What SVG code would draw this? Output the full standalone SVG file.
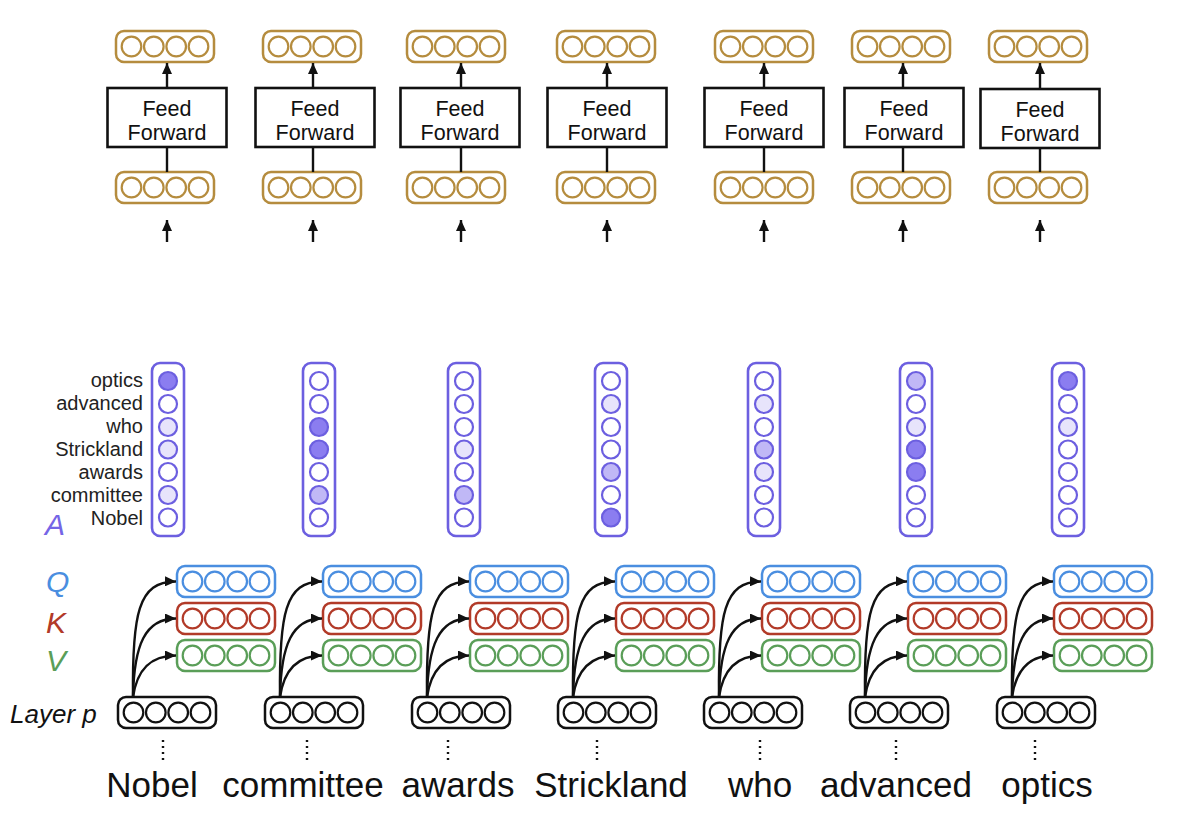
<svg xmlns="http://www.w3.org/2000/svg" xmlns:xlink="http://www.w3.org/1999/xlink" width="1200" height="833" viewBox="0 0 1200 833">
<style>
text{font-family:"Liberation Sans",Arial,sans-serif;fill:#111}
.vec rect,.vec circle{fill:none;stroke:currentColor;stroke-width:2.5}
.vec circle{stroke-width:2.2}
.gold{color:#b58c3e}.blue{color:#4a8ee0}.red{color:#b23a28}.green{color:#5a9e58}.blk{color:#111}
.ff{fill:#fff;stroke:#111;stroke-width:2.6}
.ffl{font-size:21.5px;text-anchor:middle}
.conn line,.conn path{stroke:#111;stroke-width:2.4;fill:none}
.arr{marker-end:url(#ah)}
.att rect{fill:none;stroke:#6c5fe0;stroke-width:2.6}
.att circle{stroke:#6c5fe0;stroke-width:2.2;fill:#fff}
.att .d{fill:#8b7df0}.att .m{fill:#c0b8f6}.att .l{fill:#e7e4fb}
.lab{font-size:20px;text-anchor:end;fill:#222}
.word{font-size:35px;text-anchor:middle}
.dots{stroke:#333;stroke-width:2;stroke-dasharray:2 4}
.sym{font-size:30px;font-style:italic}
</style>
<defs>
<marker id="ah" markerWidth="11" markerHeight="10" refX="11" refY="5" orient="auto" markerUnits="userSpaceOnUse"><path d="M0,0 L11,5 L0,10 z" fill="#111"/></marker>
<g id="v4" class="vec"><rect x="0" y="0" width="98" height="31" rx="8"/><circle cx="15.5" cy="15.5" r="9.8"/><circle cx="37.8" cy="15.5" r="9.8"/><circle cx="60.2" cy="15.5" r="9.8"/><circle cx="82.5" cy="15.5" r="9.8"/></g>
</defs>
<rect width="1200" height="833" fill="#fff"/>

<!-- top feed-forward blocks -->
<g id="ff1"><use href="#v4" x="116" y="31" class="gold"/><rect class="ff" x="107.5" y="88" width="119" height="59"/><text class="ffl" x="167" y="116">Feed</text><text class="ffl" x="167" y="140">Forward</text><use href="#v4" x="116" y="172" class="gold"/></g>
<g id="ff2"><use href="#v4" x="263" y="31" class="gold"/><rect class="ff" x="255.5" y="88" width="119" height="59"/><text class="ffl" x="315" y="116">Feed</text><text class="ffl" x="315" y="140">Forward</text><use href="#v4" x="263" y="172" class="gold"/></g>
<g id="ff3"><use href="#v4" x="407" y="31" class="gold"/><rect class="ff" x="400.5" y="88" width="119" height="59"/><text class="ffl" x="460" y="116">Feed</text><text class="ffl" x="460" y="140">Forward</text><use href="#v4" x="407" y="172" class="gold"/></g>
<g id="ff4"><use href="#v4" x="557" y="31" class="gold"/><rect class="ff" x="547.5" y="88" width="119" height="59"/><text class="ffl" x="607" y="116">Feed</text><text class="ffl" x="607" y="140">Forward</text><use href="#v4" x="557" y="172" class="gold"/></g>
<g id="ff5"><use href="#v4" x="715" y="31" class="gold"/><rect class="ff" x="704.5" y="88" width="119" height="59"/><text class="ffl" x="764" y="116">Feed</text><text class="ffl" x="764" y="140">Forward</text><use href="#v4" x="715" y="172" class="gold"/></g>
<g id="ff6"><use href="#v4" x="852" y="31" class="gold"/><rect class="ff" x="844.5" y="88" width="119" height="59"/><text class="ffl" x="904" y="116">Feed</text><text class="ffl" x="904" y="140">Forward</text><use href="#v4" x="852" y="172" class="gold"/></g>
<g id="ff7"><use href="#v4" x="989" y="31" class="gold"/><rect class="ff" x="980.5" y="89" width="119" height="59"/><text class="ffl" x="1040" y="117">Feed</text><text class="ffl" x="1040" y="141">Forward</text><use href="#v4" x="989" y="172" class="gold"/></g>

<!-- attention columns -->
<g id="attlabels">
<text class="lab" x="143" y="387">optics</text>
<text class="lab" x="143" y="410">advanced</text>
<text class="lab" x="143" y="433">who</text>
<text class="lab" x="143" y="456">Strickland</text>
<text class="lab" x="143" y="479">awards</text>
<text class="lab" x="143" y="502">committee</text>
<text class="lab" x="143" y="525">Nobel</text>
<text class="sym" x="45" y="535" style="fill:#7565e6">A</text>
</g>
<g id="att1" class="att"><rect x="152" y="363" width="32" height="173" rx="8"/><circle class="d" cx="168" cy="381" r="9"/><circle cx="168" cy="404" r="9"/><circle class="l" cx="168" cy="427" r="9"/><circle class="l" cx="168" cy="449.5" r="9"/><circle cx="168" cy="472" r="9"/><circle class="l" cx="168" cy="495" r="9"/><circle cx="168" cy="517.5" r="9"/></g>
<g id="att2" class="att"><rect x="303" y="363" width="32" height="173" rx="8"/><circle cx="319" cy="381" r="9"/><circle cx="319" cy="404" r="9"/><circle class="d" cx="319" cy="427" r="9"/><circle class="d" cx="319" cy="449.5" r="9"/><circle cx="319" cy="472" r="9"/><circle class="m" cx="319" cy="495" r="9"/><circle cx="319" cy="517.5" r="9"/></g>
<g id="att3" class="att"><rect x="448" y="363" width="32" height="173" rx="8"/><circle cx="464" cy="381" r="9"/><circle cx="464" cy="404" r="9"/><circle cx="464" cy="427" r="9"/><circle class="l" cx="464" cy="449.5" r="9"/><circle cx="464" cy="472" r="9"/><circle class="m" cx="464" cy="495" r="9"/><circle cx="464" cy="517.5" r="9"/></g>
<g id="att4" class="att"><rect x="595" y="363" width="32" height="173" rx="8"/><circle cx="611" cy="381" r="9"/><circle class="l" cx="611" cy="404" r="9"/><circle cx="611" cy="427" r="9"/><circle cx="611" cy="449.5" r="9"/><circle class="m" cx="611" cy="472" r="9"/><circle cx="611" cy="495" r="9"/><circle class="d" cx="611" cy="517.5" r="9"/></g>
<g id="att5" class="att"><rect x="748" y="363" width="32" height="173" rx="8"/><circle cx="764" cy="381" r="9"/><circle class="l" cx="764" cy="404" r="9"/><circle cx="764" cy="427" r="9"/><circle class="m" cx="764" cy="449.5" r="9"/><circle class="l" cx="764" cy="472" r="9"/><circle cx="764" cy="495" r="9"/><circle cx="764" cy="517.5" r="9"/></g>
<g id="att6" class="att"><rect x="900" y="363" width="32" height="173" rx="8"/><circle class="m" cx="916" cy="381" r="9"/><circle cx="916" cy="404" r="9"/><circle class="l" cx="916" cy="427" r="9"/><circle class="d" cx="916" cy="449.5" r="9"/><circle class="d" cx="916" cy="472" r="9"/><circle cx="916" cy="495" r="9"/><circle cx="916" cy="517.5" r="9"/></g>
<g id="att7" class="att"><rect x="1052" y="363" width="32" height="173" rx="8"/><circle class="d" cx="1068" cy="381" r="9"/><circle cx="1068" cy="404" r="9"/><circle class="l" cx="1068" cy="427" r="9"/><circle cx="1068" cy="449.5" r="9"/><circle cx="1068" cy="472" r="9"/><circle cx="1068" cy="495" r="9"/><circle cx="1068" cy="517.5" r="9"/></g>

<!-- QKV labels -->
<g id="qkvlabels">
<text class="sym" x="46" y="592" style="fill:#4a8ee0">Q</text>
<text class="sym" x="46" y="633" style="fill:#b23a28">K</text>
<text class="sym" x="46" y="671" style="fill:#5a9e58">V</text>
<text x="10" y="723" style="font-size:26px;font-style:italic">Layer p</text>
</g>

<!-- QKV + layer nodes -->
<g id="tok1"><use href="#v4" x="177" y="566" class="blue"/><use href="#v4" x="177" y="603" class="red"/><use href="#v4" x="177" y="640" class="green"/><use href="#v4" x="118" y="697" class="blk"/></g>
<g id="tok2"><use href="#v4" x="323" y="566" class="blue"/><use href="#v4" x="323" y="603" class="red"/><use href="#v4" x="323" y="640" class="green"/><use href="#v4" x="265" y="697" class="blk"/></g>
<g id="tok3"><use href="#v4" x="470" y="566" class="blue"/><use href="#v4" x="470" y="603" class="red"/><use href="#v4" x="470" y="640" class="green"/><use href="#v4" x="412" y="697" class="blk"/></g>
<g id="tok4"><use href="#v4" x="616" y="566" class="blue"/><use href="#v4" x="616" y="603" class="red"/><use href="#v4" x="616" y="640" class="green"/><use href="#v4" x="558" y="697" class="blk"/></g>
<g id="tok5"><use href="#v4" x="762" y="566" class="blue"/><use href="#v4" x="762" y="603" class="red"/><use href="#v4" x="762" y="640" class="green"/><use href="#v4" x="704" y="697" class="blk"/></g>
<g id="tok6"><use href="#v4" x="908" y="566" class="blue"/><use href="#v4" x="908" y="603" class="red"/><use href="#v4" x="908" y="640" class="green"/><use href="#v4" x="850" y="697" class="blk"/></g>
<g id="tok7"><use href="#v4" x="1054" y="566" class="blue"/><use href="#v4" x="1054" y="603" class="red"/><use href="#v4" x="1054" y="640" class="green"/><use href="#v4" x="997" y="697" class="blk"/></g>

<!-- words -->
<g id="words">
<text class="word" x="152" y="797">Nobel</text>
<text class="word" x="303" y="797">committee</text>
<text class="word" x="458" y="797">awards</text>
<text class="word" x="611" y="797">Strickland</text>
<text class="word" x="760" y="797">who</text>
<text class="word" x="896" y="797">advanced</text>
<text class="word" x="1047" y="797">optics</text>
</g>

<!-- connectors -->
<g id="connectors" class="conn">
<line class="arr" x1="167" y1="88" x2="167" y2="63"/><line x1="167" y1="147" x2="167" y2="172"/><line class="arr" x1="167" y1="242" x2="167" y2="220"/>
<line class="arr" x1="313" y1="88" x2="313" y2="63"/><line x1="313" y1="147" x2="313" y2="172"/><line class="arr" x1="313" y1="242" x2="313" y2="220"/>
<line class="arr" x1="461" y1="88" x2="461" y2="63"/><line x1="461" y1="147" x2="461" y2="172"/><line class="arr" x1="461" y1="242" x2="461" y2="220"/>
<line class="arr" x1="607" y1="88" x2="607" y2="63"/><line x1="607" y1="147" x2="607" y2="172"/><line class="arr" x1="607" y1="242" x2="607" y2="220"/>
<line class="arr" x1="764" y1="88" x2="764" y2="63"/><line x1="764" y1="147" x2="764" y2="172"/><line class="arr" x1="764" y1="242" x2="764" y2="220"/>
<line class="arr" x1="903" y1="88" x2="903" y2="63"/><line x1="903" y1="147" x2="903" y2="172"/><line class="arr" x1="903" y1="242" x2="903" y2="220"/>
<line class="arr" x1="1040" y1="89" x2="1040" y2="63"/><line x1="1040" y1="148" x2="1040" y2="172"/><line class="arr" x1="1040" y1="242" x2="1040" y2="220"/>

<path class="arr" d="M133,697 C132,615 138,581 176,581.5"/><path class="arr" d="M133,697 C134,645 145,618.5 176,618.5"/><path class="arr" d="M133,697 C137,670 150,655.5 176,655.5"/>
<path class="arr" d="M280,697 C279,615 285,581 322,581.5"/><path class="arr" d="M280,697 C281,645 292,618.5 322,618.5"/><path class="arr" d="M280,697 C284,670 297,655.5 322,655.5"/>
<path class="arr" d="M427,697 C426,615 432,581 469,581.5"/><path class="arr" d="M427,697 C428,645 439,618.5 469,618.5"/><path class="arr" d="M427,697 C431,670 444,655.5 469,655.5"/>
<path class="arr" d="M573,697 C572,615 578,581 615,581.5"/><path class="arr" d="M573,697 C574,645 585,618.5 615,618.5"/><path class="arr" d="M573,697 C577,670 590,655.5 615,655.5"/>
<path class="arr" d="M719,697 C718,615 724,581 761,581.5"/><path class="arr" d="M719,697 C720,645 731,618.5 761,618.5"/><path class="arr" d="M719,697 C723,670 736,655.5 761,655.5"/>
<path class="arr" d="M865,697 C864,615 870,581 907,581.5"/><path class="arr" d="M865,697 C866,645 877,618.5 907,618.5"/><path class="arr" d="M865,697 C869,670 882,655.5 907,655.5"/>
<path class="arr" d="M1012,697 C1011,615 1017,581 1053,581.5"/><path class="arr" d="M1012,697 C1013,645 1024,618.5 1053,618.5"/><path class="arr" d="M1012,697 C1016,670 1029,655.5 1053,655.5"/>

<line class="dots" x1="163" y1="740" x2="163" y2="763"/>
<line class="dots" x1="307" y1="740" x2="307" y2="763"/>
<line class="dots" x1="448" y1="740" x2="448" y2="763"/>
<line class="dots" x1="597" y1="740" x2="597" y2="763"/>
<line class="dots" x1="760" y1="740" x2="760" y2="763"/>
<line class="dots" x1="896" y1="740" x2="896" y2="763"/>
<line class="dots" x1="1035" y1="740" x2="1035" y2="763"/>
</g>
</svg>
